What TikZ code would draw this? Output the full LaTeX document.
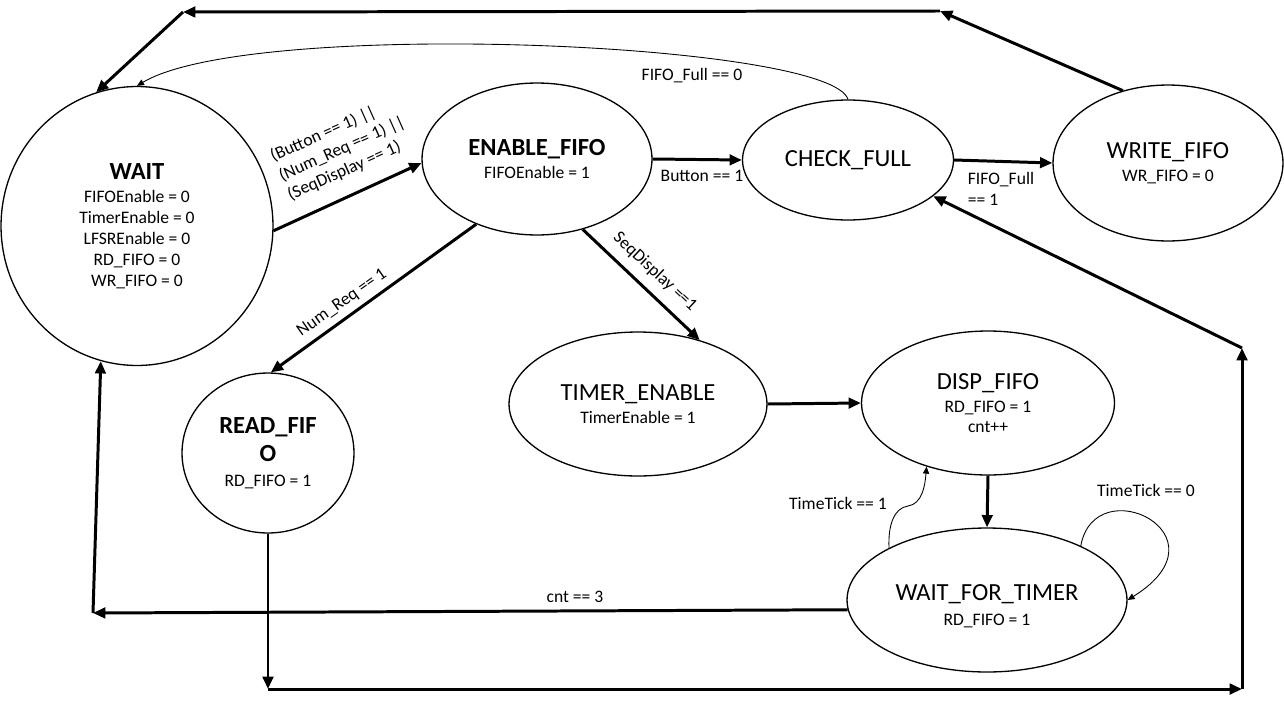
\documentclass[tikz,border=0pt]{standalone}
\usepackage{fontspec}
\setmainfont{Carlito}
\usetikzlibrary{shapes.geometric,arrows.meta}
\begin{document}
\begin{tikzpicture}[x=0.02cm,y=-0.02cm,
  state/.style={draw,ellipse,line width=0.75pt,inner sep=0pt,align=center},
  arr/.style={line width=1.7pt,-{Triangle[length=7pt,width=6pt]}},
  thinarr/.style={line width=0.5pt,-{Triangle[length=4pt,width=3.5pt]}},
  lbl/.style={font=\fontsize{10}{12}\selectfont,inner sep=1pt}]
\useasboundingbox[fill=white] (0,0) rectangle (1284,703);

% states
\node[state,minimum width=5.44cm,minimum height=5.58cm] (wait) at (137,226)
  {\fontsize{14}{17}\selectfont\bfseries WAIT\\[1pt]
   FIFOEnable = 0\\ TimerEnable = 0\\ LFSREnable = 0\\ RD\_FIFO = 0\\ WR\_FIFO = 0};
\node[state,minimum width=4.6cm,minimum height=3.04cm] (enable) at (537,159)
  {\fontsize{14}{17}\selectfont\bfseries ENABLE\_FIFO\\[1pt]
   FIFOEnable = 1};
\node[state,minimum width=4.22cm,minimum height=2.4cm] (check) at (848,160)
  {\fontsize{14}{17}\selectfont CHECK\_FULL};
\node[state,minimum width=4.6cm,minimum height=3.12cm] (write) at (1168,163)
  {\fontsize{14}{17}\selectfont WRITE\_FIFO\\[1pt]
   WR\_FIFO = 0};
\node[state,minimum width=3.44cm,minimum height=3.2cm] (read) at (268,453)
  {\fontsize{14}{17}\selectfont\bfseries READ\_FIF\\[4pt]
   \fontsize{14}{17}\selectfont\bfseries O\\[2pt]
   RD\_FIFO = 1};
\node[state,minimum width=5.16cm,minimum height=2.88cm] (timer) at (638,404)
  {\fontsize{14}{17}\selectfont TIMER\_ENABLE\\[1pt]
   TimerEnable = 1};
\node[state,minimum width=5.06cm,minimum height=2.88cm] (disp) at (988,403)
  {\fontsize{14}{17}\selectfont DISP\_FIFO\\[1pt]
   RD\_FIFO = 1\\[-0.5pt] cnt++};
\node[state,minimum width=5.6cm,minimum height=2.88cm] (wft) at (987,600)
  {\fontsize{14}{17}\selectfont\rule{0pt}{16pt}WAIT\_FOR\_TIMER\\[2pt]
   RD\_FIFO = 1};

% corner points
\coordinate (c1) at (940,11);
\coordinate (c2) at (183,12);
\coordinate (c3) at (93,613);
\coordinate (c4) at (268,689);
\coordinate (c5) at (1242,689);
\coordinate (c6) at (1242,348);

% transitions
\draw[arr] (wait.-2) -- (enable.182);
\draw[arr] (enable.east) -- (check.west);
\draw[arr] (check.east) -- (write.west);
\draw[thinarr] (check.north) .. controls (830,42) and (250,18) .. (wait.north);
\draw[arr] (write.122) -- (c1);
\draw[arr] (c1) -- (c2);
\draw[arr] (c2) -- (wait.107);
\draw[arr] (enable.227) -- (read.88);
\draw[arr] (enable.-57) -- (timer.46);
\draw[arr] (timer.east) -- (disp.west);
\draw[arr] (disp.south) -- (wft.north);
\draw[thinarr] (wft.152) .. controls (888,525) and (894,508) .. (908,506)
  .. controls (922,504) and (925,486) .. (disp.226);
\draw[thinarr] (wft.30) .. controls (1095,468) and (1232,535) .. (wft.east);
\draw[arr] (wft.184) -- (c3);
\draw[arr] (c3) -- (wait.255);
\draw[arr] (read.south) -- (c4);
\draw[arr] (c4) -- (c5);
\draw[arr] (c5) -- (c6);
\draw[arr] (c6) -- (check.-23);

% labels
\node[lbl,rotate=24,align=left] (l1) at (342,149)
  {(Button == 1) ||\\(Num\_Req == 1) ||\\(SeqDisplay == 1)};
\node[lbl] (l2) at (702,176) {Button == 1};
\node[lbl,align=left] (l3) at (1001,189) {FIFO\_Full\\== 1};
\node[lbl] (l4) at (692,76) {FIFO\_Full == 0};
\node[lbl,rotate=35] (l5) at (342,303) {Num\_Req == 1};
\node[lbl,rotate=-43] (l6) at (655,272) {SeqDisplay ==1};
\node[lbl] (l7) at (838,503) {TimeTick == 1};
\node[lbl] (l8) at (1146,490) {TimeTick == 0};
\node[lbl] (l9) at (575,597) {cnt == 3};
\end{tikzpicture}
\end{document}
